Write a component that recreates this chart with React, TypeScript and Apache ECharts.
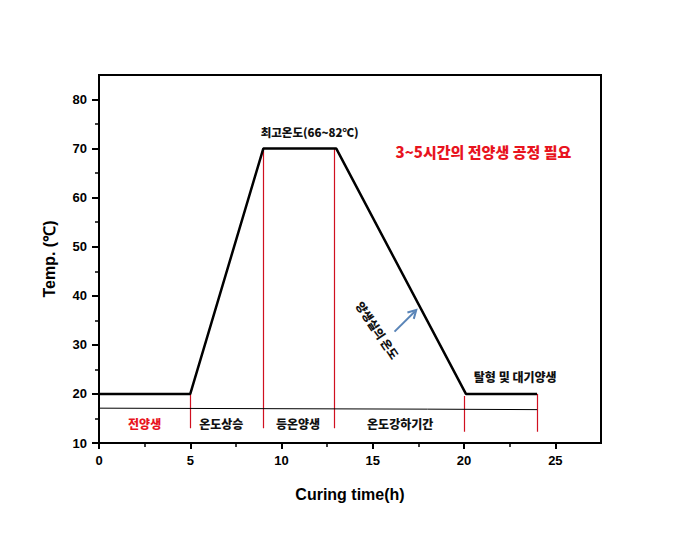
import React, { useEffect, useRef } from "react";
import * as echarts from "echarts";

// Temperature profile (time h, temp ℃)
const profileX = [0, 5, 9, 13, 20.1, 24];
const profileY = [20, 20, 70, 70, 20, 20];

// Red phase dividers
const dividerX = [5, 9, 12.9, 20, 24];
const dividerTop = [20, 70, 70, 19.6, 20];
const dividerBottom = [13, 13, 13, 12.3, 12.3];

// Thin baseline under the profile
const baselineX = [0, 18, 24];
const baselineY = [17.1, 16.9, 16.8];

// Axis ticks
const xTicks = [0, 5, 10, 15, 20, 25];
const xMinorTicks = [2.5, 7.5, 12.5, 17.5, 22.5];
const yTicks = [10, 20, 30, 40, 50, 60, 70, 80];
const yMinorTicks = [15, 25, 35, 45, 55, 65, 75];

// Phase labels
const phaseLabels = ["전양생", "온도상승", "등온양생", "온도강하기간"];
const phaseLabelX = [2.5, 6.7, 10.9, 16.5];
const phaseLabelY = 13.9;
const phaseLabelColors = ["#e8141e", "#111111", "#111111", "#111111"];

// Other annotations (data coordinates)
const peakNote = "최고온도(66~82℃)";
const peakNotePos = [11.54, 73.4];
const redNote = "3~5시간의 전양생 공정 필요";
const redNotePos = [21.06, 69.4];
const demoldNote = "탈형 및 대기양생";
const demoldNotePos = [22.8, 23.5];
const slopeNote = "양생실의 온도";
const slopeNotePos = [15.26, 33.0];
const arrowFrom = [16.19, 32.7];
const arrowTo = [17.38, 37.1];

const KFONT = '"Noto Sans CJK KR", "Noto Sans", sans-serif';
const AFONT = 'Arial, "Liberation Sans", sans-serif';

export default function App() {
  const ref = useRef<HTMLDivElement>(null);
  useEffect(() => {
    if (!ref.current) return;
    const chart = echarts.init(ref.current, undefined, { renderer: "svg" });
    const profile = profileX.map((x, i) => [x, profileY[i]]);
    const baseline = baselineX.map((x, i) => [x, baselineY[i]]);
    const dividers = dividerX.map((x, i) => ({
      coords: [
        [x, dividerTop[i]],
        [x, dividerBottom[i]],
      ],
    }));
    chart.setOption({
      animation: false,
      backgroundColor: "#ffffff",
      grid: {
        left: 99,
        right: 80,
        top: 75,
        bottom: 104,
        show: true,
        borderColor: "#000",
        borderWidth: 2,
        backgroundColor: "transparent",
      },
      xAxis: [
        {
          type: "value",
          min: 0,
          max: 27.5,
          interval: 2.5,
          name: "Curing time(h)",
          nameLocation: "middle",
          nameGap: 43,
          nameTextStyle: { fontFamily: AFONT, fontWeight: "bold", fontSize: 16, color: "#000" },
          axisLine: { show: true, lineStyle: { color: "#000", width: 2 } },
          axisTick: { show: true, customValues: xTicks, length: 6, inside: false, lineStyle: { color: "#000", width: 2 } },
          axisLabel: {
            customValues: xTicks,
            margin: 11,
            fontFamily: AFONT,
            fontWeight: "bold",
            fontSize: 13,
            color: "#000",
          },
          splitLine: { show: false },
        },
        {
          type: "value",
          min: 0,
          max: 27.5,
          interval: 2.5,
          position: "bottom",
          axisLine: { show: false },
          axisTick: { show: true, customValues: xMinorTicks, length: 4, lineStyle: { color: "#000", width: 1.5 } },
          axisLabel: { show: false },
          splitLine: { show: false },
        },
      ],
      yAxis: [
        {
          type: "value",
          min: 10,
          max: 85,
          interval: 5,
          name: "Temp. (℃)",
          nameLocation: "middle",
          nameRotate: 90,
          nameGap: 42,
          nameTextStyle: { fontFamily: AFONT, fontWeight: "bold", fontSize: 16, color: "#000" },
          axisLine: { show: true, lineStyle: { color: "#000", width: 2 } },
          axisTick: { show: true, customValues: yTicks, length: 7, lineStyle: { color: "#000", width: 2 } },
          axisLabel: {
            customValues: yTicks,
            margin: 12,
            fontFamily: AFONT,
            fontWeight: "bold",
            fontSize: 13,
            color: "#000",
          },
          splitLine: { show: false },
        },
        {
          type: "value",
          min: 10,
          max: 85,
          interval: 5,
          position: "left",
          axisLine: { show: false },
          axisTick: { show: true, customValues: yMinorTicks, length: 4, lineStyle: { color: "#000", width: 1.5 } },
          axisLabel: { show: false },
          splitLine: { show: false },
        },
      ],
      series: [
        {
          type: "lines",
          coordinateSystem: "cartesian2d",
          xAxisIndex: 0,
          yAxisIndex: 0,
          data: dividers,
          lineStyle: { color: "#d01020", width: 1.2, opacity: 1 },
          silent: true,
          z: 2,
        },
        {
          type: "line",
          xAxisIndex: 0,
          yAxisIndex: 0,
          data: baseline,
          showSymbol: false,
          lineStyle: { color: "#000", width: 1 },
          z: 2,
        },
        {
          type: "line",
          xAxisIndex: 0,
          yAxisIndex: 0,
          data: profile,
          showSymbol: false,
          lineStyle: { color: "#000", width: 2.5 },
          z: 3,
        },
      ],
    });

    const toPx = (p: number[]) =>
      chart.convertToPixel({ xAxisIndex: 0, yAxisIndex: 0 }, p) as number[];

    const texts: any[] = [];
    const addText = (txt: string, pos: number[], size: number, color: string, extra: any = {}) => {
      const [px, py] = toPx(pos);
      texts.push({
        type: "text",
        x: px,
        y: py,
        z: 10,
        ...extra,
        style: {
          text: txt,
          fill: color,
          fontFamily: KFONT,
          fontWeight: 900,
          fontSize: size,
          align: "center",
          verticalAlign: "middle",
        },
      });
    };
    phaseLabels.forEach((t, i) => addText(t, [phaseLabelX[i], phaseLabelY], 12, phaseLabelColors[i]));
    addText(peakNote, peakNotePos, 11.5, "#111");
    addText(redNote, redNotePos, 15, "#e8141e");
    addText(demoldNote, demoldNotePos, 12, "#111");
    addText(slopeNote, slopeNotePos, 11.5, "#111", { rotation: -0.98 });

    const a = toPx(arrowFrom);
    const b = toPx(arrowTo);
    const dx = b[0] - a[0];
    const dy = b[1] - a[1];
    const len = Math.hypot(dx, dy);
    const ux = dx / len;
    const uy = dy / len;
    const hl = 8;
    const hw = 4.5;
    const base = [b[0] - ux * hl, b[1] - uy * hl];
    texts.push({
      type: "line",
      z: 10,
      shape: { x1: a[0], y1: a[1], x2: b[0] - ux * 2, y2: b[1] - uy * 2 },
      style: { stroke: "#5a85b8", lineWidth: 2 },
    });
    texts.push({
      type: "polyline",
      z: 10,
      shape: {
        points: [
          [base[0] - uy * hw, base[1] + ux * hw],
          [b[0], b[1]],
          [base[0] + uy * hw, base[1] - ux * hw],
        ],
      },
      style: { stroke: "#5a85b8", lineWidth: 2, fill: "none" },
    });

    chart.setOption({ graphic: texts });

    return () => chart.dispose();
  }, []);

  return <div ref={ref} style={{ width: 681, height: 547, marginLeft: -8, marginTop: -8 }} />;
}
